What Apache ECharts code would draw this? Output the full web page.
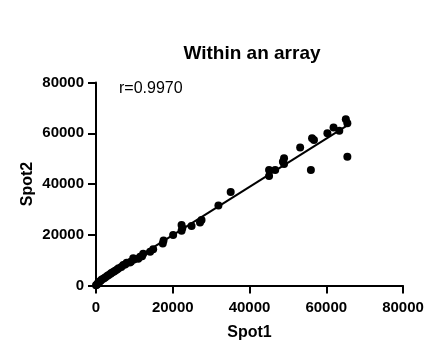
<!DOCTYPE html>
<html>
<head>
<meta charset="utf-8">
<script src="https://cdn.jsdelivr.net/npm/echarts@6/dist/echarts.min.js"></script>
<style>
  html, body { margin: 0; padding: 0; background: #fff; }
  #main { width: 448px; height: 351px; }
</style>
</head>
<body>
<div id="main"></div>
<script>
// Spot1 / Spot2 intensities
const spot1 = [0, 200, 400, 600, 900, 1200, 1500, 2000, 2400, 2900, 3300, 3800, 4100, 4600, 5000, 5500, 5900, 6600, 7100, 7600,
  8000, 8800, 9100, 9700, 9900, 11000, 11500, 12000, 12300, 14100, 14900, 17400, 17600, 20100, 22300, 22500, 22300, 24900,
  27100, 27500, 31900, 35100, 45100, 45100, 46700, 48700, 49000, 49000, 53200, 56000, 56300, 56800, 60300, 61900, 63400,
  65100, 65500, 65500];
const spot2 = [100, 300, 600, 1200, 1500, 1900, 2400, 2800, 3200, 3700, 4100, 4600, 5000, 5400, 5800, 6300, 6800, 7300, 8100, 8300,
  9000, 9100, 9400, 10700, 10200, 10500, 11300, 11500, 12500, 13300, 14300, 16600, 17700, 19900, 21600, 22700, 23800, 23400,
  24800, 25800, 31500, 36800, 43200, 45500, 45500, 48800, 47900, 50100, 54400, 45500, 58000, 57300, 60000, 62300, 61000,
  65500, 63900, 50700];
const xTicks = [0, 20000, 40000, 60000, 80000];
const yTicks = [0, 20000, 40000, 60000, 80000];
const rText = 'r=0.9970';

const points = spot1.map((x, i) => [x, spot2[i]]);

// least squares fit for the line
const n = spot1.length;
const mx = spot1.reduce((a, b) => a + b, 0) / n;
const my = spot2.reduce((a, b) => a + b, 0) / n;
let sxy = 0, sxx = 0;
for (let i = 0; i < n; i++) {
  sxy += (spot1[i] - mx) * (spot2[i] - my);
  sxx += (spot1[i] - mx) * (spot1[i] - mx);
}
const slope = sxy / sxx;
const icpt = my - slope * mx;
const xmin = Math.min(...spot1), xmax = Math.max(...spot1);
const fitLine = [[xmin, icpt + slope * xmin], [xmax, icpt + slope * xmax]];

const font = 'Liberation Sans, Arial, sans-serif';
const axisCommon = {
  type: 'value',
  min: xTicks[0],
  max: xTicks[xTicks.length - 1],
  interval: 20000,
  splitLine: { show: false },
  axisLine: { show: true, lineStyle: { color: '#000', width: 2 } },
  axisTick: { show: true, length: 8, lineStyle: { color: '#000', width: 2 } },
  nameLocation: 'middle',
  nameMoveOverlap: false,
  nameTextStyle: { color: '#000', fontWeight: 'bold', fontSize: 16, fontFamily: font }
};
const tickLabel = { color: '#000', fontWeight: 'bold', fontSize: 15, fontFamily: font, formatter: v => String(v) };

const chart = echarts.init(document.getElementById('main'));
chart.setOption({
  animation: false,
  title: [
    {
      text: 'Within an array',
      left: 247, top: 39, textAlign: 'center',
      textStyle: { color: '#000', fontWeight: 'bold', fontSize: 19, fontFamily: font }
    },
    {
      text: rText,
      left: 114, top: 76,
      textStyle: { color: '#000', fontWeight: 'normal', fontSize: 16, fontFamily: font }
    }
  ],
  grid: { left: 96, right: 45, top: 82.5, bottom: 65.5 },
  xAxis: Object.assign({}, axisCommon, {
    name: 'Spot1',
    nameGap: 39,
    axisLabel: Object.assign({ margin: 15 }, tickLabel)
  }),
  yAxis: Object.assign({}, axisCommon, {
    min: yTicks[0],
    max: yTicks[yTicks.length - 1],
    name: 'Spot2',
    nameGap: 60,
    axisLabel: Object.assign({ margin: 12 }, tickLabel)
  }),
  series: [
    {
      type: 'line',
      data: fitLine,
      showSymbol: false,
      lineStyle: { color: '#000', width: 2 }
    },
    {
      type: 'scatter',
      data: points,
      symbolSize: 8,
      itemStyle: { color: '#000', opacity: 1 }
    }
  ]
});
</script>
</body>
</html>
